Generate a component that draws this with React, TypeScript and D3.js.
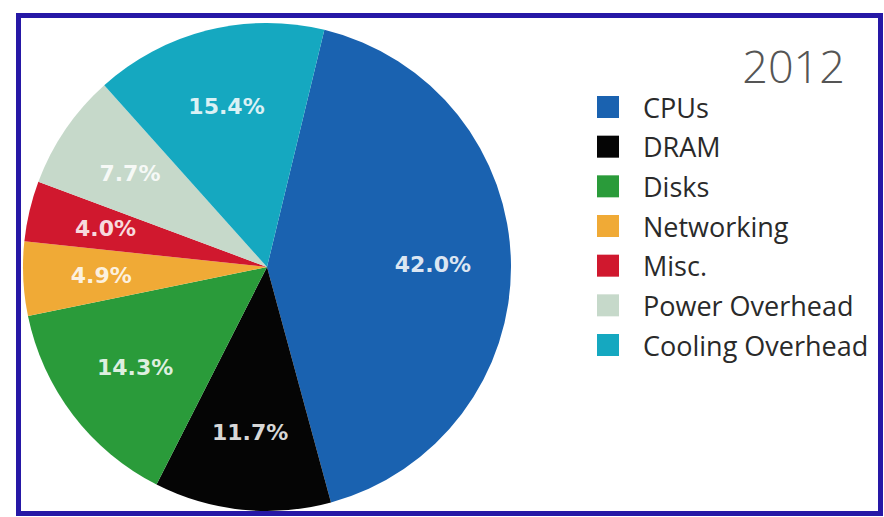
import React, { useEffect, useRef } from "react";
import * as d3 from "d3";

const categories = ["CPUs", "DRAM", "Disks", "Networking", "Misc.", "Power Overhead", "Cooling Overhead"];
const values = [42.0, 11.7, 14.3, 4.9, 4.0, 7.7, 15.4];
const colors = ["#1a62b0", "#050505", "#2a9b3a", "#f0aa36", "#d0182e", "#c6d9ca", "#15a8c0"];
const title = "2012";

export default function App() {
  const ref = useRef<SVGSVGElement>(null);

  useEffect(() => {
    document.body.style.margin = "0";
    const svg = d3.select(ref.current);
    svg.selectAll("*").remove();

    const W = 884, H = 517;
    const cx = 267, cy = 267, r = 244;
    const offset = (13.6 * Math.PI) / 180;

    svg.append("rect").attr("width", W).attr("height", H).attr("fill", "#ffffff");

    const data = categories.map((c, i) => ({ name: c, value: values[i], color: colors[i] }));
    const pie = d3.pie<any>().sort(null).value((d: any) => d.value)
      .startAngle(offset).endAngle(offset + 2 * Math.PI);
    const arcs = pie(data);
    const arc = d3.arc<any>().innerRadius(0).outerRadius(r);
    const labelArc = d3.arc<any>().innerRadius(r * 0.68).outerRadius(r * 0.68);

    const g = svg.append("g").attr("transform", `translate(${cx},${cy})`);
    g.selectAll("path.slice").data(arcs).enter().append("path")
      .attr("class", "slice")
      .attr("d", arc as any)
      .attr("fill", (d: any) => d.data.color);

    g.selectAll("text.lbl").data(arcs).enter().append("text")
      .attr("class", "lbl")
      .attr("transform", (d: any) => `translate(${labelArc.centroid(d)})`)
      .attr("text-anchor", "middle")
      .attr("dominant-baseline", "central")
      .attr("font-family", "DejaVu Sans")
      .attr("font-weight", "bold")
      .attr("font-size", 22)
      .attr("fill", "#ffffff")
      .attr("fill-opacity", 0.85)
      .text((d: any) => d.data.value.toFixed(1) + "%");

    // Legend
    svg.append("text")
      .attr("x", 845).attr("y", 83)
      .attr("text-anchor", "end")
      .attr("font-family", "Open Sans")
      .attr("font-weight", 300)
      .attr("font-size", 45)
      .attr("fill", "#555555")
      .text(title);

    const rowY = d3.scalePoint<string>().domain(categories).range([107, 345]);
    const lg = svg.append("g");
    const items = lg.selectAll("g.item").data(data).enter().append("g")
      .attr("class", "item")
      .attr("transform", (d: any) => `translate(0,${rowY(d.name)})`);
    items.append("rect")
      .attr("x", 597).attr("y", -11).attr("width", 22).attr("height", 22)
      .attr("fill", (d: any) => d.color);
    items.append("text")
      .attr("x", 643).attr("y", 0)
      .attr("dominant-baseline", "central")
      .attr("font-family", "Open Sans")
      .attr("font-size", 27)
      .attr("fill", "#2a2a2a")
      .text((d: any) => d.name);

    // Frame
    svg.append("rect")
      .attr("x", 18.5).attr("y", 15.5).attr("width", 862).attr("height", 498)
      .attr("fill", "none").attr("stroke", "#2618a6").attr("stroke-width", 5);
  }, []);

  return (
    <svg ref={ref} width={884} height={517} style={{ position: "absolute", left: 0, top: 0, display: "block" }} />
  );
}
